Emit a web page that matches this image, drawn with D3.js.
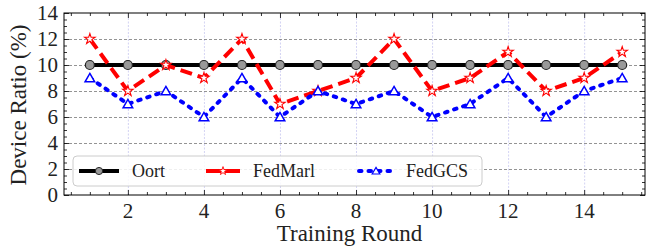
<!DOCTYPE html>
<html><head>
<meta charset="utf-8">
<script src="https://d3js.org/d3.v7.min.js"></script>
<style>
  body { margin: 0; background: #fff; }
  svg text { font-family: "Liberation Serif", "DejaVu Serif", serif; fill: #222; }
  .gridY line { stroke: #666; stroke-dasharray: 3,2; stroke-width: 0.7; }
  .gridX line { stroke: #c8c8f0; stroke-dasharray: 2,1.5; stroke-width: 0.8; }
  .gridY .domain, .gridX .domain { stroke: none; }
</style>
</head>
<body>
<svg id="chart" width="648" height="247"></svg>
<script>
  // data
  const rounds = [1, 2, 3, 4, 5, 6, 7, 8, 9, 10, 11, 12, 13, 14, 15];
  const oort    = [10, 10, 10, 10, 10, 10, 10, 10, 10, 10, 10, 10, 10, 10, 10];
  const fedMarl = [12, 8, 10, 9, 12, 7, 8, 9, 12, 8, 9, 11, 8, 9, 11];
  const fedGcs  = [9, 7, 8, 6, 9, 6, 8, 7, 8, 6, 7, 9, 6, 8, 9];
  const xTicks = [2, 4, 6, 8, 10, 12, 14];
  const yTicks = [0, 2, 4, 6, 8, 10, 12, 14];

  const svg = d3.select('#chart');
  const margins = {top: 13, right: 3, bottom: 52, left: 64};
  const width = +svg.attr('width');
  const height = +svg.attr('height');
  const chartWidth = width - margins.left - margins.right;
  const chartHeight = height - margins.top - margins.bottom;

  const xScale = d3.scaleLinear().domain([0.32, 15.6]).range([0, chartWidth]);
  const yScale = d3.scaleLinear().domain([0, 14]).range([chartHeight, 0]);

  const chartArea = svg.append('g')
    .attr('transform', `translate(${margins.left}, ${margins.top})`);

  // gridlines
  chartArea.append('g').attr('class', 'gridX')
    .attr('transform', `translate(0, ${chartHeight})`)
    .call(d3.axisBottom(xScale).tickValues(xTicks).tickSize(-chartHeight).tickFormat(''));
  chartArea.append('g').attr('class', 'gridY')
    .call(d3.axisLeft(yScale).tickValues(yTicks.slice(1, -1)).tickSize(-chartWidth).tickFormat(''));

  // lines
  const series = [
    {name: 'Oort', values: oort, color: '#000', dash: null, width: 4, marker: 'circle'},
    {name: 'FedMarl', values: fedMarl, color: '#ff0000', dash: '12,6', width: 4, marker: 'star'},
    {name: 'FedGCS', values: fedGcs, color: '#0000ff', dash: '2.5,7', width: 4, marker: 'triangle'}
  ];

  const line = d3.line().x((d, i) => xScale(rounds[i])).y(d => yScale(d));

  function drawMarker(g, type, color) {
    if (type === 'circle') {
      g.append('circle').attr('r', 4.5).attr('fill', '#999').attr('stroke', '#222').attr('stroke-width', 1.2);
    } else if (type === 'star') {
      g.append('path').attr('d', d3.symbol(d3.symbolStar, 34)()).attr('fill', '#fff')
        .attr('stroke', color).attr('stroke-width', 1.1);
    } else {
      g.append('path').attr('d', d3.symbol(d3.symbolTriangle, 40)()).attr('transform', 'translate(0,1)')
        .attr('fill', '#fff').attr('stroke', color).attr('stroke-width', 1.5);
    }
  }

  series.forEach(s => {
    chartArea.append('path')
      .datum(s.values)
      .attr('d', line)
      .attr('fill', 'none')
      .attr('stroke', s.color)
      .attr('stroke-width', s.width)
      .attr('stroke-dasharray', s.dash)
      .attr('stroke-linecap', s.marker === 'triangle' ? 'round' : 'butt');
    s.values.forEach((v, i) => {
      const g = chartArea.append('g')
        .attr('transform', `translate(${xScale(rounds[i])}, ${yScale(v)})`);
      drawMarker(g, s.marker, s.color);
    });
  });

  // axes with inward ticks on all sides
  const xMinor = d3.range(0.5, 15.6, 0.5).filter(v => v % 2 !== 0);
  const yMinor = d3.range(0, 14.01, 0.5).filter(v => v % 2 !== 0);

  function tickSet(axisFn, scale, values, size, pos) {
    chartArea.append('g')
      .attr('transform', pos)
      .call(axisFn(scale).tickValues(values).tickSize(-size).tickFormat(''))
      .call(g => g.select('.domain').remove())
      .selectAll('line').attr('stroke', '#000').attr('stroke-width', 0.8);
  }
  tickSet(d3.axisBottom, xScale, xTicks, 5, `translate(0, ${chartHeight})`);
  tickSet(d3.axisBottom, xScale, xMinor, 3, `translate(0, ${chartHeight})`);
  tickSet(d3.axisTop, xScale, xTicks, 5, 'translate(0, 0)');
  tickSet(d3.axisTop, xScale, xMinor, 3, 'translate(0, 0)');
  tickSet(d3.axisLeft, yScale, yTicks, 5, 'translate(0, 0)');
  tickSet(d3.axisLeft, yScale, yMinor, 3, 'translate(0, 0)');
  tickSet(d3.axisRight, yScale, yTicks, 5, `translate(${chartWidth}, 0)`);
  tickSet(d3.axisRight, yScale, yMinor, 3, `translate(${chartWidth}, 0)`);

  chartArea.append('rect')
    .attr('width', chartWidth).attr('height', chartHeight)
    .attr('fill', 'none').attr('stroke', '#000').attr('stroke-width', 1);

  // tick labels
  chartArea.append('g').selectAll('text').data(xTicks).join('text')
    .attr('x', d => xScale(d)).attr('y', chartHeight + 23)
    .attr('text-anchor', 'middle').attr('font-size', 21).text(d => d);
  chartArea.append('g').selectAll('text').data(yTicks).join('text')
    .attr('x', -6).attr('y', d => yScale(d) + 7)
    .attr('text-anchor', 'end').attr('font-size', 21).text(d => d);

  // axis titles
  svg.append('text')
    .attr('x', margins.left + chartWidth / 2 - 5).attr('y', 241)
    .attr('text-anchor', 'middle').attr('font-size', 23).text('Training Round');
  svg.append('text')
    .attr('transform', `translate(26, ${margins.top + chartHeight / 2 + 1}) rotate(-90)`)
    .attr('text-anchor', 'middle').attr('font-size', 23).text('Device Ratio (%)');

  // legend
  const legend = chartArea.append('g').attr('transform', 'translate(9, 143)');
  legend.append('rect')
    .attr('width', 409).attr('height', 30).attr('rx', 4)
    .attr('fill', 'rgba(255,255,255,0.85)').attr('stroke', '#ccc').attr('stroke-width', 1);
  const legendX = [6, 133, 286];
  const legendLen = [40, 34, 34];
  series.forEach((s, i) => {
    const g = legend.append('g').attr('transform', `translate(${legendX[i]}, 15)`);
    g.append('line').attr('x1', 0).attr('x2', legendLen[i])
      .attr('stroke', s.color).attr('stroke-width', s.width)
      .attr('stroke-dasharray', s.marker === 'triangle' ? '2.5,7' : null)
      .attr('stroke-linecap', s.marker === 'triangle' ? 'round' : 'butt');
    const m = g.append('g').attr('transform', `translate(${legendLen[i] / 2}, 0) scale(0.8)`);
    drawMarker(m, s.marker, s.color);
    g.append('text').attr('x', legendLen[i] + 13).attr('y', 6).attr('font-size', 18).text(s.name);
  });
</script>
</body>
</html>
